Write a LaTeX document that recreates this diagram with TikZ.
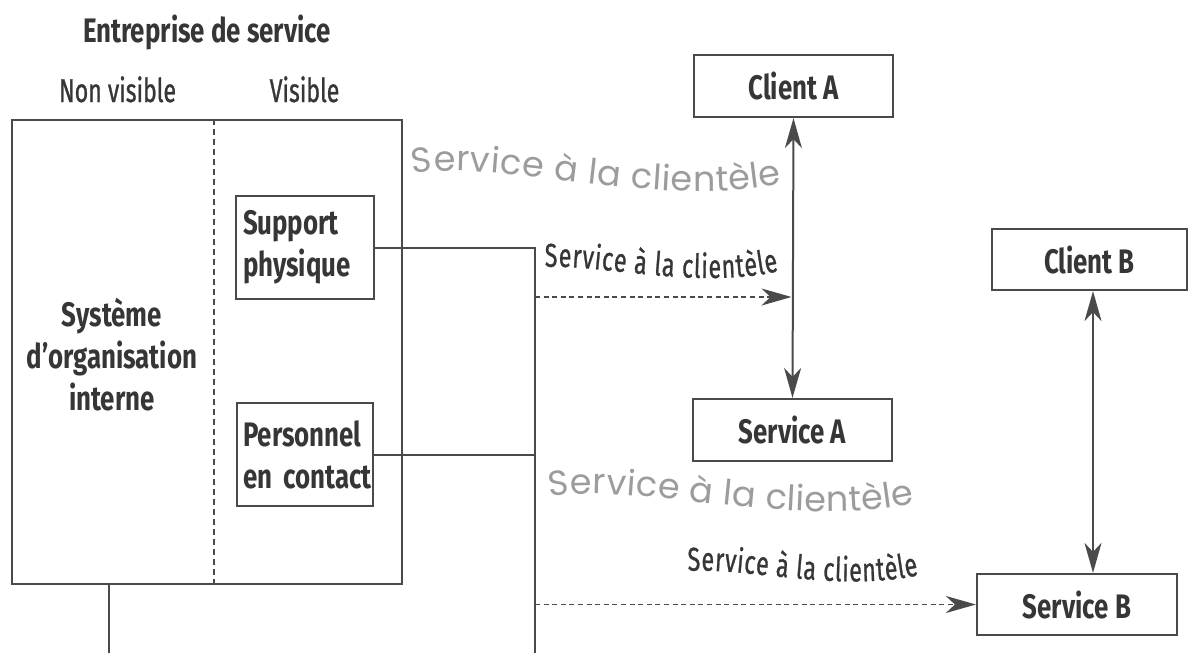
\documentclass[tikz,border=0pt]{standalone}
\usepackage{fontspec}
\usetikzlibrary{arrows.meta, decorations.text, calc}

% Condensed sans for the labels, geometric sans for the pale captions
\newfontfamily\condbold[FakeStretch=0.76]{Fira Sans}
\newfontfamily\condmed[FakeStretch=0.7, FakeBold=0.8]{Fira Sans}
\newfontfamily\geosans{Poppins}

\definecolor{ink}{HTML}{363636}
\definecolor{rule}{HTML}{4A4A4A}
\definecolor{pale}{HTML}{9C9C9C}

\newcommand\boxfnt{\condbold\bfseries\fontsize{17}{21}\selectfont}
\newcommand\headfnt{\condmed\fontsize{16.5}{19}\selectfont}
\newcommand\flowfnt{\condmed\fontsize{16.5}{19}\selectfont}
\newcommand\palefnt{\geosans\fontsize{17.5}{20}\selectfont}

\begin{document}
\begin{tikzpicture}[x=0.5pt, y=-0.5pt,
  box/.style={draw=rule, line width=1.1pt, inner sep=0pt, font=\boxfnt, text=ink},
  lbl/.style={inner sep=0pt, text=ink},
  wire/.style={draw=rule, line width=1pt},
  flow/.style={draw=rule, line width=0.9pt, dash pattern=on 2.5pt off 1.8pt,
    -{Stealth[length=15pt, width=8.5pt, inset=4.5pt]}},
  twoway/.style={draw=rule, line width=1pt,
    {Stealth[length=15pt, width=8.5pt, inset=4.5pt]}-{Stealth[length=15pt, width=8.5pt, inset=4.5pt]}},
  caption/.style={decorate, decoration={text along path, text align={fit to path}}}
]
\useasboundingbox[fill=white] (0,0) rectangle (1189,653);

% Headings above the company block
\node[lbl, font=\boxfnt, anchor=base] (title) at (207,42) {Entreprise de service};
\node[lbl, font=\headfnt, anchor=base] (nonvis) at (117.5,102) {Non visible};
\node[lbl, font=\headfnt, anchor=base] (vis) at (304.5,102) {Visible};

% Company block split into hidden and visible parts
\node[draw=rule, line width=1.1pt, minimum width=195pt, minimum height=232pt, inner sep=0pt] (main) at (207,352) {};
\draw[rule, line width=0.9pt, dash pattern=on 3pt off 2pt] (214,0 |- main.north) -- (214,0 |- main.south);

\node[lbl, font=\boxfnt, align=center] (sys) at (112,355) {Système\\d’organisation\\interne};

\node[box, minimum width=68.75pt, minimum height=51.5pt, text width=62pt, align=left] (support) at (305,247.5) {\mbox{Support}\\\mbox{physique}};
\node[box, minimum width=68.25pt, minimum height=51.5pt, text width=62pt, align=left] (personnel) at (305,454.5) {\mbox{Personnel}\\\mbox{en contact}};

% Clients and their services
\node[box, minimum width=99.5pt, minimum height=31pt] (clientA) at (793.5,86) {Client A};
\node[box, minimum width=99.5pt, minimum height=31pt] (serviceA) at (792.5,430) {Service A};
\node[box, minimum width=97.5pt, minimum height=30.5pt] (clientB) at (1089.5,259.5) {Client B};
\node[box, minimum width=100pt, minimum height=30.5pt] (serviceB) at (1077,604.5) {Service B};

% Delivery bus from the visible part
\coordinate (busTop) at (535,0 |- support.east);
\coordinate (busEnd) at (535,653);
\draw[wire] (support.east) -- (busTop) -- (busEnd);
\draw[wire] (personnel.east) -- (personnel.east -| busTop);

\coordinate (stub) at (109,653);
\draw[wire] (stub |- main.south) -- (stub);

% Service flows
\coordinate (tapA) at (535,297);
\draw[flow] (tapA) -- ([xshift=-1pt]tapA -| clientA.south);
\draw[flow] (serviceB.west -| busTop) -- (serviceB.west);

\draw[twoway] (clientA.south) -- (serviceA.north);
\coordinate (laneB) at (1093,0);
\draw[twoway] (clientB.south -| laneB) -- (serviceB.north -| laneB);

% Captions along wavy baselines
\path[caption, decoration={text color=pale, text={|\palefnt|Service à la clientèle}}]
  (413,174) .. controls (500,158) and (660,210) .. (782,184);
\path[caption, decoration={text color=ink, text={|\flowfnt|Service à la clientèle}}]
  (545,267) .. controls (600,264) and (700,290) .. (779,271);
\path[caption, decoration={text color=pale, text={|\palefnt|Service à la clientèle}}]
  (550,497) .. controls (637,482) and (797,530) .. (915,503);
\path[caption, decoration={text color=ink, text={|\flowfnt|Service à la clientèle}}]
  (688,571) .. controls (745,567) and (840,593) .. (919,575);
\end{tikzpicture}
\end{document}
